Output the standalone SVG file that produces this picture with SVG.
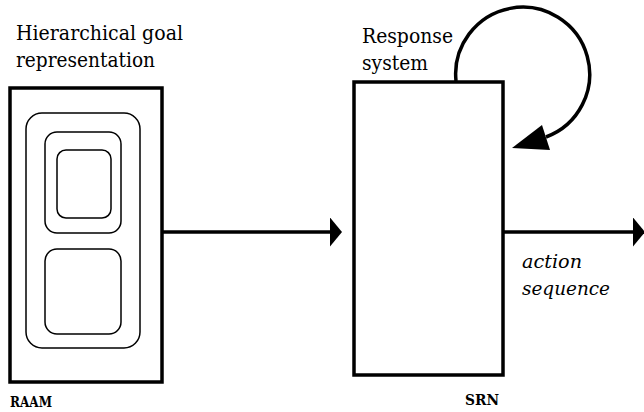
<svg xmlns="http://www.w3.org/2000/svg" width="644" height="412" viewBox="0 0 644 412">
<style>
text{font-family:'DejaVu Serif','Liberation Serif',serif;fill:#000}
.lbl{font-size:20px}
.it{font-size:19px;font-style:italic}
.bold{font-size:14px;font-weight:bold}
.box{fill:#fff;stroke:#000;stroke-width:3.5}
.inner{fill:none;stroke:#000;stroke-width:1.5}
.conn{fill:none;stroke:#000;stroke-width:3.5}
</style>
<defs>
<marker id="ah" viewBox="0 0 12 29" refX="0" refY="14.5" markerWidth="12" markerHeight="29" markerUnits="userSpaceOnUse" orient="auto">
<path d="M0,0 L12,14.5 L0,29 Z" fill="#000"/>
</marker>
</defs>
<rect width="644" height="412" fill="#fff"/>
<g id="raam">
<rect class="box" x="10" y="88" width="152" height="294"/>
<rect class="inner" x="26" y="113" width="114" height="235" rx="16"/>
<rect class="inner" x="45" y="132" width="76" height="101" rx="12"/>
<rect class="inner" x="57" y="150" width="54" height="68" rx="9"/>
<rect class="inner" x="45" y="249" width="76" height="85" rx="12"/>
<text class="lbl" x="16" y="40" textLength="167" lengthAdjust="spacingAndGlyphs">Hierarchical goal</text>
<text class="lbl" x="16" y="67" textLength="139" lengthAdjust="spacingAndGlyphs">representation</text>
<text class="bold" x="10" y="407" textLength="42" lengthAdjust="spacingAndGlyphs">RAAM</text>
</g>
<g id="srn">
<rect class="box" x="354" y="82" width="149" height="293"/>
<text class="lbl" x="362" y="43" textLength="91" lengthAdjust="spacingAndGlyphs">Response</text>
<text class="lbl" x="362" y="70" textLength="66" lengthAdjust="spacingAndGlyphs">system</text>
<text class="bold" x="465" y="405" textLength="34" lengthAdjust="spacingAndGlyphs">SRN</text>
</g>
<g id="output-label">
<text class="it" x="522" y="268" textLength="60" lengthAdjust="spacingAndGlyphs">action</text>
<text class="it" x="522" y="295" textLength="88" lengthAdjust="spacingAndGlyphs">sequence</text>
</g>
<g id="connectors">
<path class="conn" d="M162,232 H330" marker-end="url(#ah)"/>
<path class="conn" d="M503,232 H633" marker-end="url(#ah)"/>
<path class="conn" d="M456,81 A67,67 0 1 1 546,137"/>
<polygon points="512,148 542,125 550,150" fill="#000"/>
</g>
</svg>
